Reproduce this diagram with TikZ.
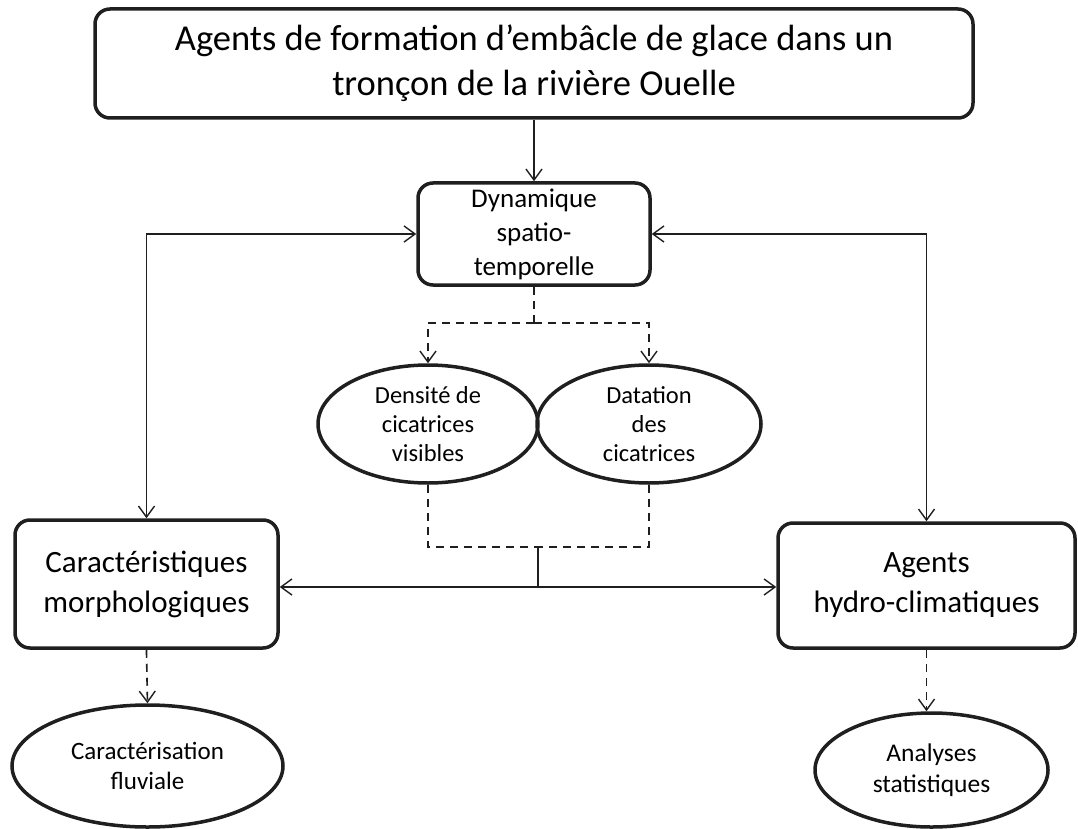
\documentclass[tikz,border=0pt]{standalone}
\usepackage{fontspec}
\setmainfont{Carlito}
\usetikzlibrary{arrows.meta,shapes.geometric}
\begin{document}
\begin{tikzpicture}[x=1pt,y=-1pt,
  box/.style={draw=black!88,line width=3.5pt,rounded corners=15pt,align=center,inner sep=0pt},
  oval/.style={draw=black!88,line width=3.5pt,ellipse,align=center,inner sep=0pt},
  conn/.style={draw=black!88,line width=1.7pt},
  tip/.style={-{Straight Barb[length=11pt,width=16pt,line width=1.4pt]}},
  dsh/.style={dash pattern=on 8pt off 6pt}
]
\useasboundingbox (0,0) rectangle (1078,829);
\node[box,minimum width=878pt,minimum height=109pt,font=\fontsize{36.5}{45}\selectfont] (top) at (534,63.5)
  {Agents de formation d’embâcle de glace dans un\\tronçon de la rivière Ouelle};
\node[box,minimum width=232pt,minimum height=102pt,font=\fontsize{27}{34}\selectfont] (dyn) at (534,234)
  {Dynamique\\spatio-\\temporelle};
\node[oval,minimum width=220pt,minimum height=118pt,font=\fontsize{24.5}{29}\selectfont] (e1) at (428,424)
  {Densité de\\cicatrices\\visibles};
\node[oval,minimum width=224pt,minimum height=118pt,font=\fontsize{24.5}{29}\selectfont] (e2) at (649,424)
  {Datation\\des\\cicatrices};
\node[box,minimum width=263pt,minimum height=128pt,font=\fontsize{31}{40}\selectfont] (cm) at (146.5,584)
  {Caractéristiques\\morphologiques};
\node[box,minimum width=297pt,minimum height=125pt,font=\fontsize{31}{40}\selectfont] (ah) at (926.5,585.5)
  {Agents\\hydro-climatiques};
\node[oval,minimum width=271pt,minimum height=122pt,font=\fontsize{25}{30}\selectfont] (e3) at (147.5,766)
  {Caractérisation\\fluviale};
\node[oval,minimum width=233pt,minimum height=114pt,font=\fontsize{25.5}{31}\selectfont] (e4) at (931.5,770)
  {Analyses\\statistiques};

\coordinate (dsplit) at (534,323);
\coordinate (jn) at (538,547);
\coordinate (jb) at (538,587);

\draw[conn,tip] (top.south) -- (dyn.north);
\draw[conn,{Straight Barb[length=11pt,width=16pt,line width=1.4pt]}-{Straight Barb[length=11pt,width=16pt,line width=1.4pt]}] (dyn.west) -| (cm.north);
\draw[conn,{Straight Barb[length=11pt,width=16pt,line width=1.4pt]}-{Straight Barb[length=11pt,width=16pt,line width=1.4pt]}] (dyn.east) -| (ah.north);
\draw[conn,dsh] (dyn.south) -- (dsplit);
\draw[conn,dsh,tip] (dsplit) -| (e1.north);
\draw[conn,dsh,tip] (dsplit) -| (e2.north);
\draw[conn,dsh] (e1.south) |- (jn);
\draw[conn,dsh] (e2.south) |- (jn);
\draw[conn] (jn) -- (jb);
\draw[conn,tip] (jb) -- (cm.east |- jb);
\draw[conn,tip] (jb) -- (ah.west |- jb);
\draw[conn,dsh,tip] (cm.south) -- (e3.north);
\draw[conn,dsh,tip] (ah.south) -- (ah.south |- e4.north);
\end{tikzpicture}
\end{document}
